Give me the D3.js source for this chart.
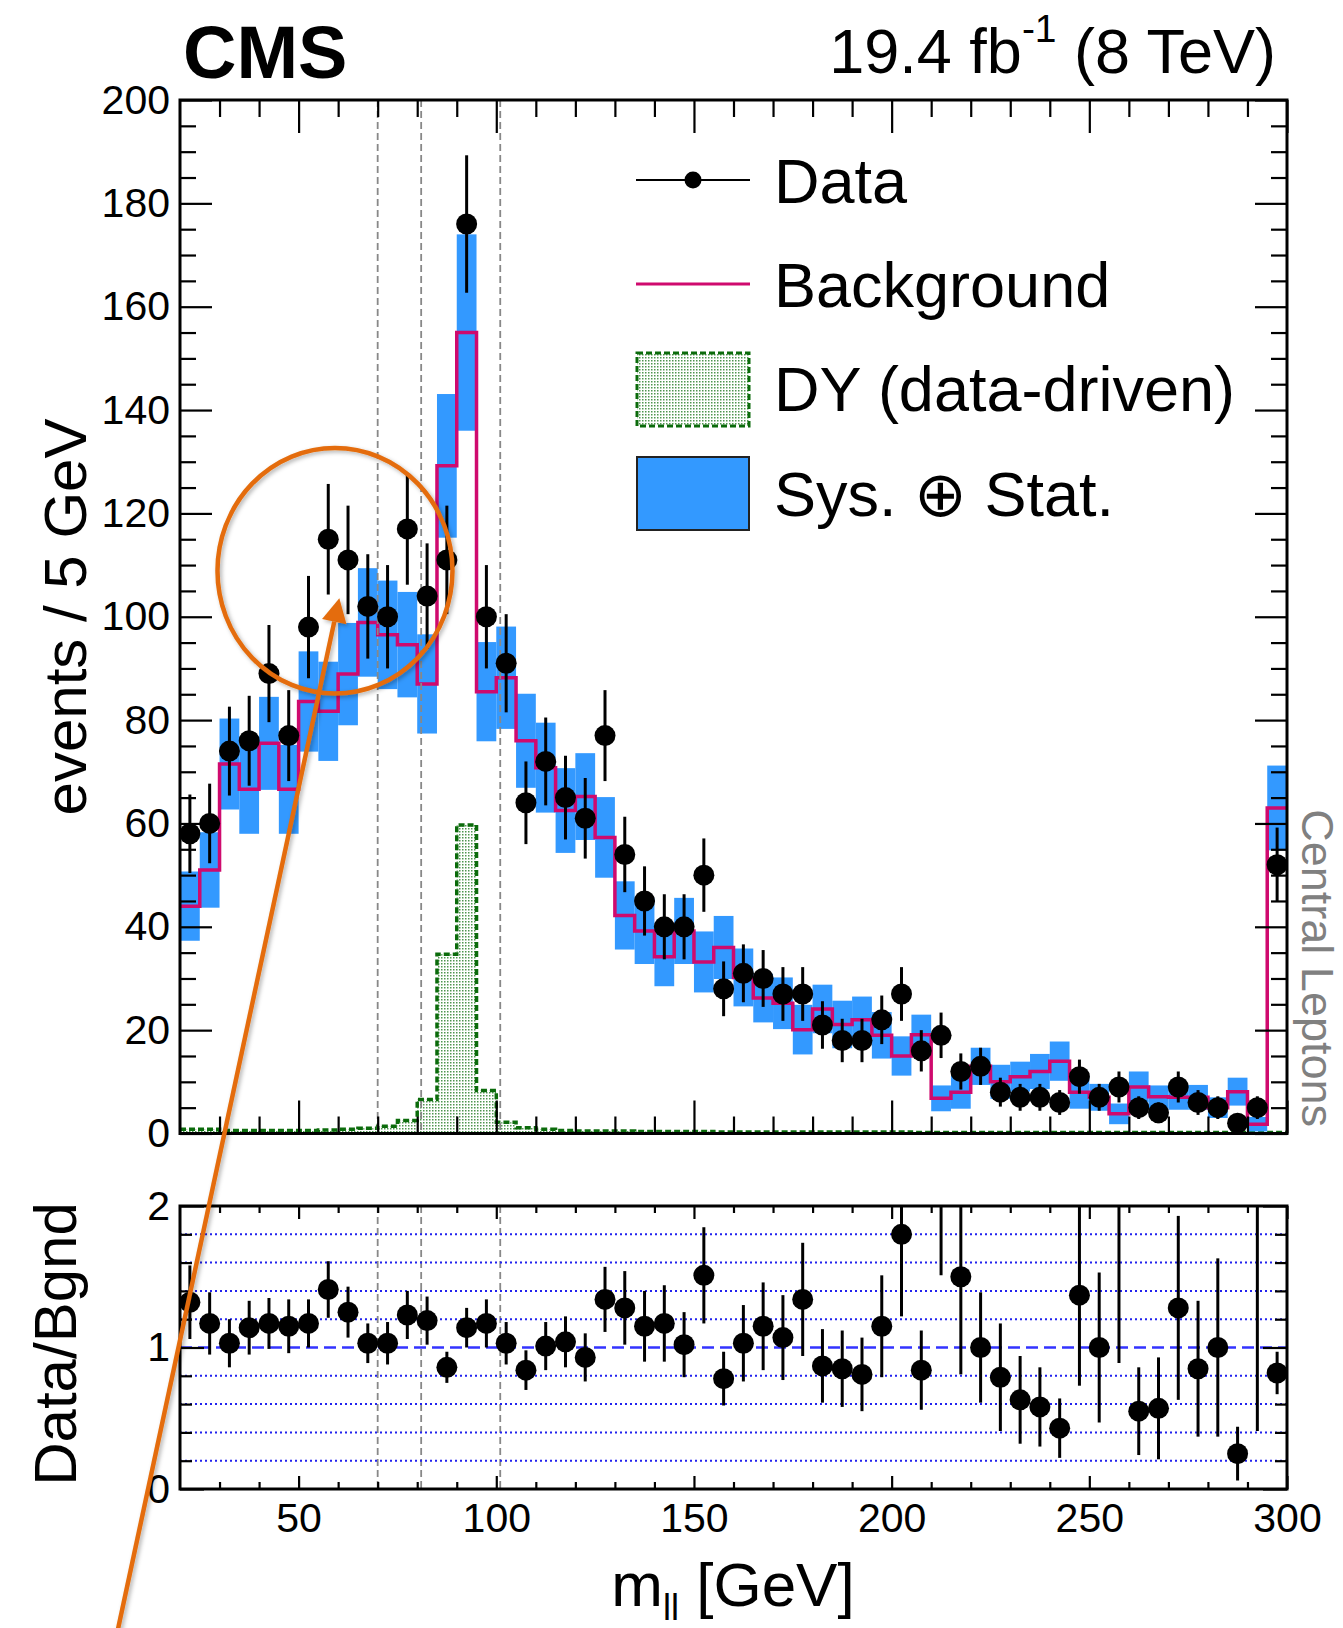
<!DOCTYPE html>
<html>
<head>
<meta charset="utf-8">
<script src="https://cdn.jsdelivr.net/npm/d3@7"></script>
<style>
  body { margin: 0; background: #fff; }
  svg { display: block; }
  text { font-family: "Liberation Sans", Arial, Helvetica, sans-serif; }
</style>
</head>
<body>
<svg id="chart" width="1343" height="1628"></svg>
<script>
// Colours
const BAND_COLOR = "#3399ff";   // Sys. (+) Stat. band
const BKG_COLOR = "#cf0a6e";    // background step line
const DY_COLOR = "#0b6b0b";     // DY outline
const ANNO_COLOR = "#e46c0a";   // orange annotation

// Bins (lower edges, 5 GeV wide)
const binLow = [20,25,30,35,40,45,50,55,60,65,70,75,80,85,90,95,100,105,110,115,
  120,125,130,135,140,145,150,155,160,165,170,175,180,185,190,195,200,205,210,215,
  220,225,230,235,240,245,250,255,260,265,270,275,280,285,290,295];
const binWidth = 5;

// Data (events / 5 GeV) and its errors
const dataCounts = [58,60,74,76,89,77,98,115,111,102,100,117,104,111,176,100,91,64,72,65,
  61,77,54,45,40,40,50,28,31,30,27,27,21,18,18,22,27,16,19,12,
  13,8,7,7,6,11,7,9,5,4,9,6,5,2,5,52];
const dataErr = [7.6,7.7,8.6,8.7,9.4,8.8,9.9,10.7,10.5,10.1,10,10.8,10.2,10.5,13.3,10,9.5,8,8.5,8.1,
  7.8,8.8,7.3,6.7,6.3,6.3,7.1,5.3,5.6,5.5,5.2,5.2,4.6,4.2,4.2,4.7,5.2,4,4.4,3.5,
  3.6,2.8,2.6,2.6,2.4,3.3,2.6,3,2.2,2,3,2.4,2.2,1.4,2.2,7.2];

// Background prediction and its band half-width
const bkgValues = [44,51,71.5,66.6,75.5,66.6,83.6,81.7,88.9,98.9,96.5,94.6,87,129.2,155,85.5,88.2,76,70.8,62.5,
  65.2,57.3,42.2,39.2,34.2,39.2,33.2,36,30.2,26.2,25.2,20.1,24.1,21.1,22,19,15,19.1,6.8,8,
  13,10,11,12,14,8,7,3.8,9,7.1,7,7,5,8.1,1.8,63];
const bkgErr = [6.7,7.3,8.8,8.6,9,8.6,9.7,9.6,9.9,10.5,10.5,10.2,9.6,13.9,19,9.6,9.9,9.1,8.7,8.2,
  8.4,7.8,6.6,6.4,5.7,6.4,5.9,6.1,5.6,4.7,5,4.8,4.7,4.6,4.5,4.5,3.8,3.9,2.5,3.2,
  3.6,3.3,2.9,3.4,3.8,3.2,2.6,2,3,2.2,2.4,2.4,2,2.7,1.4,8.2];

// DY (data-driven)
const dyValues = [0.8,0.8,0.6,0.6,0.6,0.6,0.6,0.7,0.8,1.0,1.4,2.5,6.6,34.7,59.7,8.3,2.2,1.1,0.8,0.6,
  0.5,0.5,0.5,0.4,0.4,0.4,0.4,0.3,0.3,0.3,0.3,0.3,0.3,0.3,0.3,0.3,0.3,0.2,0.2,0.2,
  0.2,0.2,0.2,0.2,0.2,0.2,0.2,0.2,0.2,0.2,0.2,0.2,0.2,0.2,0.2,0.2];

// Data / Bgnd
const ratioValues = [1.32,1.17,1.03,1.14,1.17,1.15,1.17,1.41,1.25,1.03,1.03,1.23,1.19,0.86,1.14,1.17,1.03,0.84,1.01,1.04,
  0.93,1.34,1.28,1.15,1.17,1.02,1.51,0.78,1.03,1.15,1.07,1.34,0.87,0.85,0.81,1.15,1.8,0.84,2.8,1.5,
  1.0,0.79,0.63,0.58,0.43,1.37,1.0,2.37,0.55,0.57,1.28,0.85,1.0,0.25,2.78,0.82];
const ratioErr = [0.26,0.22,0.17,0.19,0.18,0.19,0.17,0.2,0.18,0.14,0.15,0.17,0.17,0.11,0.14,0.17,0.15,0.14,0.17,0.18,
  0.17,0.23,0.26,0.25,0.27,0.23,0.34,0.19,0.27,0.31,0.3,0.4,0.26,0.27,0.26,0.36,0.58,0.28,1.29,0.69,
  0.39,0.38,0.31,0.28,0.21,0.64,0.53,1.48,0.31,0.36,0.65,0.48,0.63,0.19,2.37,0.15];

// Axis ticks and guide lines
const xMajor = [50,100,150,200,250,300];
const yMajor = [0,20,40,60,80,100,120,140,160,180,200];
const ratioMajor = [0,1,2];
const ratioGrid = [0.2,0.4,0.6,0.8,1.2,1.4,1.6,1.8];
const windowLines = [70,81,101];

const bins = binLow.map((lo, i) => ({
  lo, hi: lo + binWidth, mid: lo + binWidth / 2,
  data: dataCounts[i], err: dataErr[i],
  bkg: bkgValues[i], bkgErr: bkgErr[i], dy: dyValues[i],
  ratio: ratioValues[i], ratioErr: ratioErr[i]
}));

const svg = d3.select("#chart");

// Scales
const x = d3.scaleLinear().domain([20, 300]).range([180, 1287]);
const y = d3.scaleLinear().domain([0, 200]).range([1133.5, 100]);
const yr = d3.scaleLinear().domain([0, 2]).range([1489, 1206]);

// defs: dotted fill, clip for ratio, shadow for annotation
const defs = svg.append("defs");
const pat = defs.append("pattern").attr("id", "dyDots")
  .attr("width", 3).attr("height", 3).attr("patternUnits", "userSpaceOnUse");
pat.append("rect").attr("width", 3).attr("height", 3).attr("fill", "#fff");
pat.append("rect").attr("width", 1.5).attr("height", 1.5).attr("fill", "#4f954f");
defs.append("clipPath").attr("id", "ratioClip").append("rect")
  .attr("x", 180).attr("y", 1206).attr("width", 1107).attr("height", 283);
defs.append("clipPath").attr("id", "mainClip").append("rect")
  .attr("x", 180).attr("y", 100).attr("width", 1107).attr("height", 1033.5);
defs.append("filter").attr("id", "shadow").attr("x", "-20%").attr("y", "-20%")
  .attr("width", "140%").attr("height", "140%")
  .append("feDropShadow").attr("dx", 2).attr("dy", 2).attr("stdDeviation", 2)
  .attr("flood-color", "#000").attr("flood-opacity", 0.3);

const mainG = svg.append("g").attr("clip-path", "url(#mainClip)");

// DY histogram
const stepPts = bins.map(b => [b.lo, b.dy]).concat([[300, bins[bins.length - 1].dy]]);
mainG.append("path")
  .attr("d", d3.area().x(d => x(d[0])).y0(y(0)).y1(d => y(d[1])).curve(d3.curveStepAfter)(stepPts))
  .attr("fill", "url(#dyDots)");
mainG.append("path")
  .attr("d", d3.line().x(d => x(d[0])).y(d => y(d[1])).curve(d3.curveStepAfter)(stepPts))
  .attr("fill", "none").attr("stroke", DY_COLOR).attr("stroke-width", 3.5)
  .attr("stroke-dasharray", "6,3");

// Sys + Stat band
mainG.selectAll(".band").data(bins).enter().append("rect")
  .attr("class", "band")
  .attr("x", d => x(d.lo)).attr("width", d => x(d.hi) - x(d.lo))
  .attr("y", d => y(d.bkg + d.bkgErr))
  .attr("height", d => y(Math.max(0, d.bkg - d.bkgErr)) - y(d.bkg + d.bkgErr))
  .attr("fill", BAND_COLOR);

// Background step line
const bkgPts = bins.map(b => [b.lo, b.bkg]).concat([[300, bins[bins.length - 1].bkg]]);
mainG.append("path")
  .attr("d", d3.line().x(d => x(d[0])).y(d => y(d[1])).curve(d3.curveStepAfter)(bkgPts))
  .attr("fill", "none").attr("stroke", BKG_COLOR).attr("stroke-width", 3.5);

// mass window lines, both panels
windowLines.forEach(m => {
  [[100, 1133.5], [1206, 1489]].forEach(([t, b]) => {
    svg.append("line").attr("x1", x(m)).attr("x2", x(m)).attr("y1", t).attr("y2", b)
      .attr("stroke", "#888").attr("stroke-width", 1.8).attr("stroke-dasharray", "7,4");
  });
});

// Data points
const dataG = svg.append("g");
dataG.selectAll(".err").data(bins).enter().append("line")
  .attr("x1", d => x(d.mid)).attr("x2", d => x(d.mid))
  .attr("y1", d => y(d.data + d.err)).attr("y2", d => y(Math.max(0, d.data - d.err)))
  .attr("stroke", "#000").attr("stroke-width", 3);
dataG.selectAll(".pt").data(bins).enter().append("circle")
  .attr("cx", d => x(d.mid)).attr("cy", d => y(d.data)).attr("r", 10.5).attr("fill", "#000");

// Ratio panel guides
ratioGrid.forEach(v => {
  svg.append("line").attr("x1", x(20)).attr("x2", x(300)).attr("y1", yr(v)).attr("y2", yr(v))
    .attr("stroke", "#2222ee").attr("stroke-width", 2).attr("stroke-dasharray", "2,3");
});
svg.append("line").attr("x1", x(20)).attr("x2", x(300)).attr("y1", yr(1)).attr("y2", yr(1))
  .attr("stroke", "#3333ff").attr("stroke-width", 2.5).attr("stroke-dasharray", "12,6");

const ratioG = svg.append("g").attr("clip-path", "url(#ratioClip)");
ratioG.selectAll(".rerr").data(bins).enter().append("line")
  .attr("x1", d => x(d.mid)).attr("x2", d => x(d.mid))
  .attr("y1", d => yr(d.ratio + d.ratioErr)).attr("y2", d => yr(Math.max(0, d.ratio - d.ratioErr)))
  .attr("stroke", "#000").attr("stroke-width", 3);
ratioG.selectAll(".rpt").data(bins).enter().append("circle")
  .attr("cx", d => x(d.mid)).attr("cy", d => yr(d.ratio)).attr("r", 10.5).attr("fill", "#000");

// Axes helper: ticks only, pointing inward
const FONT = "'Liberation Sans', Arial, Helvetica, sans-serif";
function ticks(axis, tx, ty, size, values, labels, pad) {
  const g = svg.append("g").attr("transform", `translate(${tx},${ty})`)
    .call(axis.tickValues(values).tickSize(-size).tickPadding(pad || 10)
      .tickFormat(labels ? d3.format("d") : ""));
  g.select(".domain").remove();
  g.selectAll(".tick line").attr("stroke", "#000").attr("stroke-width", 2.2);
  g.attr("font-size", 41).attr("font-family", FONT);
  g.selectAll(".tick text").attr("fill", "#000");
  return g;
}
const xMinor = d3.range(30, 300, 10).filter(v => v % 50 !== 0);
const yMinor = d3.range(5, 200, 5).filter(v => v % 20 !== 0);

// main panel
ticks(d3.axisLeft(y), 180, 0, 32, yMajor, true, 10);
ticks(d3.axisLeft(y), 180, 0, 16, yMinor, false);
ticks(d3.axisRight(y), 1287, 0, 32, yMajor, false);
ticks(d3.axisRight(y), 1287, 0, 16, yMinor, false);
ticks(d3.axisTop(x), 0, 100, 33, xMajor, false);
ticks(d3.axisTop(x), 0, 100, 17, xMinor, false);
ticks(d3.axisBottom(x), 0, 1133.5, 33, xMajor, false);
ticks(d3.axisBottom(x), 0, 1133.5, 17, xMinor, false);

// ratio panel
ticks(d3.axisLeft(yr), 180, 0, 24, ratioMajor, true, 10);
ticks(d3.axisLeft(yr), 180, 0, 12, ratioGrid, false);
ticks(d3.axisRight(yr), 1287, 0, 24, ratioMajor, false);
ticks(d3.axisRight(yr), 1287, 0, 12, ratioGrid, false);
ticks(d3.axisTop(x), 0, 1206, 13, xMajor, false);
ticks(d3.axisTop(x), 0, 1206, 7, xMinor, false);
ticks(d3.axisBottom(x), 0, 1489, 13, xMajor, true, 14);
ticks(d3.axisBottom(x), 0, 1489, 7, xMinor, false);

// Frames
svg.append("rect").attr("x", 180).attr("y", 100).attr("width", 1107).attr("height", 1033.5)
  .attr("fill", "none").attr("stroke", "#000").attr("stroke-width", 3);
svg.append("rect").attr("x", 180).attr("y", 1206).attr("width", 1107).attr("height", 283)
  .attr("fill", "none").attr("stroke", "#000").attr("stroke-width", 3);

// Titles
svg.append("text").attr("x", 183).attr("y", 78).attr("font-size", 74).attr("font-weight", "bold")
  .text("CMS");
const lumi = svg.append("text").attr("x", 1276).attr("y", 73).attr("font-size", 63)
  .attr("text-anchor", "end");
lumi.append("tspan").text("19.4 fb");
lumi.append("tspan").attr("font-size", 39).attr("dy", -31).text("-1");
lumi.append("tspan").attr("dy", 31).text(" (8 TeV)");

svg.append("text").attr("transform", "translate(86,617) rotate(-90)")
  .attr("text-anchor", "middle").attr("font-size", 60).text("events / 5 GeV");
svg.append("text").attr("transform", "translate(76,1344) rotate(-90)")
  .attr("text-anchor", "middle").attr("font-size", 60).text("Data/Bgnd");

const xt = svg.append("text").attr("x", 733).attr("y", 1606).attr("text-anchor", "middle")
  .attr("font-size", 62);
xt.append("tspan").text("m");
xt.append("tspan").attr("font-size", 36).attr("dy", 14).text("ll");
xt.append("tspan").attr("dy", -14).text(" [GeV]");

svg.append("text").attr("transform", "translate(1302,1127) rotate(90)")
  .attr("text-anchor", "end").attr("font-size", 45).attr("fill", "#808080")
  .text("Central  Leptons");

// Legend
const lg = svg.append("g");
lg.append("line").attr("x1", 636).attr("x2", 750).attr("y1", 180).attr("y2", 180)
  .attr("stroke", "#000").attr("stroke-width", 2);
lg.append("circle").attr("cx", 693).attr("cy", 180).attr("r", 8.5).attr("fill", "#000");
lg.append("line").attr("x1", 636).attr("x2", 750).attr("y1", 284).attr("y2", 284)
  .attr("stroke", BKG_COLOR).attr("stroke-width", 3);
lg.append("rect").attr("x", 637).attr("y", 353).attr("width", 112).attr("height", 73)
  .attr("fill", "url(#dyDots)").attr("stroke", DY_COLOR).attr("stroke-width", 3)
  .attr("stroke-dasharray", "6,3");
lg.append("rect").attr("x", 637).attr("y", 457).attr("width", 112).attr("height", 73)
  .attr("fill", BAND_COLOR).attr("stroke", "#222").attr("stroke-width", 2);
const legendLabels = ["Data", "Background", "DY (data-driven)", "Sys. \u2295 Stat."];
const legendBase = [203, 307, 411, 516];
legendLabels.forEach((t, i) => {
  lg.append("text").attr("x", 774).attr("y", legendBase[i]).attr("font-size", 63).text(t);
});

// Orange annotation: circle + arrow
const anno = svg.append("g").attr("filter", "url(#shadow)");
anno.append("ellipse").attr("cx", x(59.2)).attr("cy", y(108.9)).attr("rx", 117.5).attr("ry", 122.8)
  .attr("fill", "none").attr("stroke", ANNO_COLOR).attr("stroke-width", 4.5);
const tip = [x(60.3), y(103.6)];
const dir = [-0.2099, 0.9777], perp = [0.9777, 0.2099];
const base = [tip[0] + 24 * dir[0], tip[1] + 24 * dir[1]];
anno.append("line")
  .attr("x1", base[0]).attr("y1", base[1])
  .attr("x2", tip[0] + 1200 * dir[0]).attr("y2", tip[1] + 1200 * dir[1])
  .attr("stroke", ANNO_COLOR).attr("stroke-width", 4.5);
anno.append("polygon")
  .attr("points", [tip,
    [base[0] + 12.5 * perp[0], base[1] + 12.5 * perp[1]],
    [base[0] - 12.5 * perp[0], base[1] - 12.5 * perp[1]]].map(p => p.join(",")).join(" "))
  .attr("fill", ANNO_COLOR);
</script>
</body>
</html>
